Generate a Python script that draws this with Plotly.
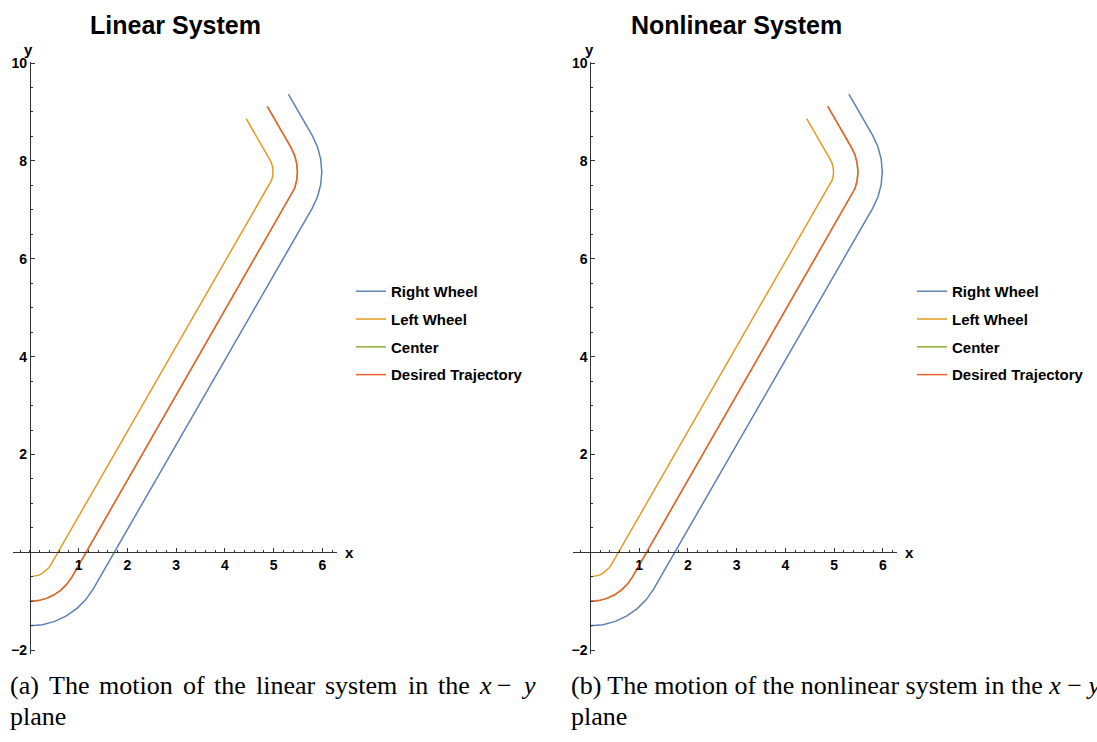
import plotly.graph_objects as go

# ---------------- data ----------------
# Center / desired trajectory of the vehicle
center_x = [0.0, 0.174, 0.342, 0.5, 0.643, 0.766, 0.866,
            5.356, 5.430, 5.475, 5.49, 5.475, 5.430, 5.356, 4.871]
center_y = [-1.0, -0.985, -0.940, -0.866, -0.766, -0.643, -0.5,
            7.276, 7.434, 7.602, 7.776, 7.950, 8.118, 8.276, 9.116]
desired_x = list(center_x)
desired_y = list(center_y)
# Left wheel
left_x = [0.0, 0.087, 0.171, 0.25, 0.321, 0.383, 0.433,
          4.923, 4.960, 4.982, 4.99, 4.982, 4.960, 4.923, 4.438]
left_y = [-0.5, -0.492, -0.470, -0.433, -0.383, -0.321, -0.25,
          7.526, 7.605, 7.689, 7.776, 7.863, 7.947, 8.026, 8.866]
# Right wheel
right_x = [0.0, 0.260, 0.513, 0.75, 0.964, 1.149, 1.299,
           5.789, 5.900, 5.967, 5.99, 5.967, 5.900, 5.789, 5.304]
right_y = [-1.5, -1.477, -1.410, -1.299, -1.149, -0.964, -0.75,
           7.026, 7.263, 7.516, 7.776, 8.036, 8.289, 8.526, 9.366]

series_names = ["Right Wheel", "Left Wheel", "Center", "Desired Trajectory"]
panel_titles = ["Linear System", "Nonlinear System"]
x_tickvals = [1, 2, 3, 4, 5, 6]
y_tickvals = [-2, 2, 4, 6, 8, 10]

# ---------------- style / layout ----------------
W, H = 1097, 742
colors = ["#5E81B5", "#E19C24", "#8FB032", "#EB6235"]
SANS = "Liberation Sans, Arial, sans-serif"
SERIF = "Liberation Serif, Times New Roman, serif"
AX = "#333333"

# vertical calibration of the captured picture (picture_y = A*page_y + B)
CAL_A, CAL_B = 0.9844, 7.03
def vp(target):
    """page pixel row that lands on the given picture row"""
    return (target - CAL_B) / CAL_A

XR = [-0.35, 6.3]
YR = [-2.07, 10.03]
SX = 48.75                  # px per x unit
SY = 48.9 / CAL_A           # px per y unit (page)
X0_PIX = [29.8, 590.3]      # pixel of x=0 for each panel
Y0_PIX = vp(552.0)          # page pixel of y=0

ytop_pix = Y0_PIX - YR[1] * SY
ybot_pix = Y0_PIX - YR[0] * SY
ydom = [(H - ybot_pix) / H, (H - ytop_pix) / H]

def py(target):
    return (H - vp(target)) / H

fig = go.Figure()

series = [(right_x, right_y), (left_x, left_y), (center_x, center_y), (desired_x, desired_y)]
for p in range(2):
    xa = "x" if p == 0 else "x2"
    ya = "y" if p == 0 else "y2"
    lg = "legend" if p == 0 else "legend2"
    for i, (sx, sy) in enumerate(series):
        fig.add_trace(go.Scatter(
            x=sx, y=sy, mode="lines", name=series_names[i],
            line=dict(color=colors[i], width=1.5),
            xaxis=xa, yaxis=ya, legend=lg, legendgroup=f"g{p}{i}",
            hoverinfo="skip"))

def xaxis_dict(p):
    x0 = X0_PIX[p]
    dom = [(x0 + XR[0] * SX) / W, (x0 + XR[1] * SX) / W]
    return dict(domain=dom, range=XR, anchor="free", position=(H - Y0_PIX) / H,
                showgrid=False, zeroline=False, showline=True, linecolor=AX, linewidth=1,
                ticks="inside", ticklen=4, tickwidth=1, tickcolor=AX,
                tickmode="array", tickvals=x_tickvals,
                tickfont=dict(family=SANS, size=14, color="black", weight="bold"),
                minor=dict(tickmode="linear", tick0=0, dtick=0.2, ticks="inside",
                           ticklen=2, tickwidth=1, tickcolor=AX),
                fixedrange=True)

def yaxis_dict(p):
    return dict(domain=ydom, range=YR, anchor="free", position=X0_PIX[p] / W,
                showgrid=False, zeroline=False, showline=True, linecolor=AX, linewidth=1,
                ticks="inside", ticklen=4, tickwidth=1, tickcolor=AX,
                tickmode="array", tickvals=y_tickvals,
                tickfont=dict(family=SANS, size=14, color="black", weight="bold"),
                minor=dict(tickmode="linear", tick0=0, dtick=0.5, ticks="inside",
                           ticklen=2, tickwidth=1, tickcolor=AX),
                fixedrange=True)

annotations = []
title_cx = [175, 736]
for p in range(2):
    annotations.append(dict(text=panel_titles[p], xref="paper", yref="paper",
                            x=title_cx[p] / W, y=py(24.6), xanchor="center", yanchor="middle",
                            showarrow=False,
                            font=dict(family=SANS, size=25, color="black", weight="bold")))
    # axis labels
    annotations.append(dict(text="x", xref="paper", yref="paper",
                            x=(X0_PIX[p] + XR[1] * SX + 6) / W, y=(H - Y0_PIX) / H,
                            xanchor="left", yanchor="middle", showarrow=False,
                            font=dict(family=SANS, size=15, color="black", weight="bold")))
    annotations.append(dict(text="y", xref="paper", yref="paper",
                            x=(X0_PIX[p] - 1) / W, y=py(49.5),
                            xanchor="center", yanchor="middle", showarrow=False,
                            font=dict(family=SANS, size=15, color="black", weight="bold")))

# captions
CAP_SIZE = 26
cap_words_a = ["(a)", "The", "motion", "of", "the", "linear", "system", "in", "the",
               "<i>x</i>", "−", "<i>y</i>"]
cap_pos_a = [8, 46.5, 96.8, 181, 212.2, 253.7, 323.1, 405.8, 435.5, 477, 495, 519]
for wtxt, px in zip(cap_words_a, cap_pos_a):
    annotations.append(dict(text=wtxt, xref="paper", yref="paper", x=px / W, y=py(685),
                            xanchor="left", yanchor="middle", showarrow=False,
                            font=dict(family=SERIF, size=CAP_SIZE, color="black")))
annotations.append(dict(text="plane", xref="paper", yref="paper", x=8 / W, y=py(716),
                        xanchor="left", yanchor="middle", showarrow=False,
                        font=dict(family=SERIF, size=CAP_SIZE, color="black")))
annotations.append(dict(text="(b) The motion of the nonlinear system in the <i>x</i> − <i>y</i>",
                        xref="paper", yref="paper", x=569 / W, y=py(685),
                        xanchor="left", yanchor="middle", showarrow=False,
                        font=dict(family=SERIF, size=CAP_SIZE, color="black")))
annotations.append(dict(text="plane", xref="paper", yref="paper", x=569 / W, y=py(716),
                        xanchor="left", yanchor="middle", showarrow=False,
                        font=dict(family=SERIF, size=CAP_SIZE, color="black")))

legend_common = dict(font=dict(family=SANS, size=15, color="black", weight="bold"),
                     bgcolor="rgba(0,0,0,0)", borderwidth=0, tracegroupgap=5.3,
                     itemclick=False, itemdoubleclick=False,
                     xanchor="left", yanchor="top")

fig.update_layout(
    width=W, height=H, autosize=False,
    margin=dict(l=0, r=0, t=0, b=0),
    paper_bgcolor="white", plot_bgcolor="white",
    showlegend=True,
    xaxis=xaxis_dict(0), yaxis=yaxis_dict(0),
    xaxis2=xaxis_dict(1), yaxis2=yaxis_dict(1),
    legend=dict(x=(393 - 42) / W, y=(H - 272) / H, **legend_common),
    legend2=dict(x=(954 - 42) / W, y=(H - 272) / H, **legend_common),
    annotations=annotations,
)

page_fix = (
    "document.documentElement.style.margin='0';"
    "document.documentElement.style.overflow='hidden';"
    "document.body.style.margin='0';"
    "document.body.style.overflow='hidden';"
    "var gd=document.getElementById('{plot_id}');"
    "gd.style.position='fixed';gd.style.left='0px';gd.style.top='0px';"
)
fig.write_html("out.html", config={"displayModeBar": False, "staticPlot": True},
               post_script=page_fix)
